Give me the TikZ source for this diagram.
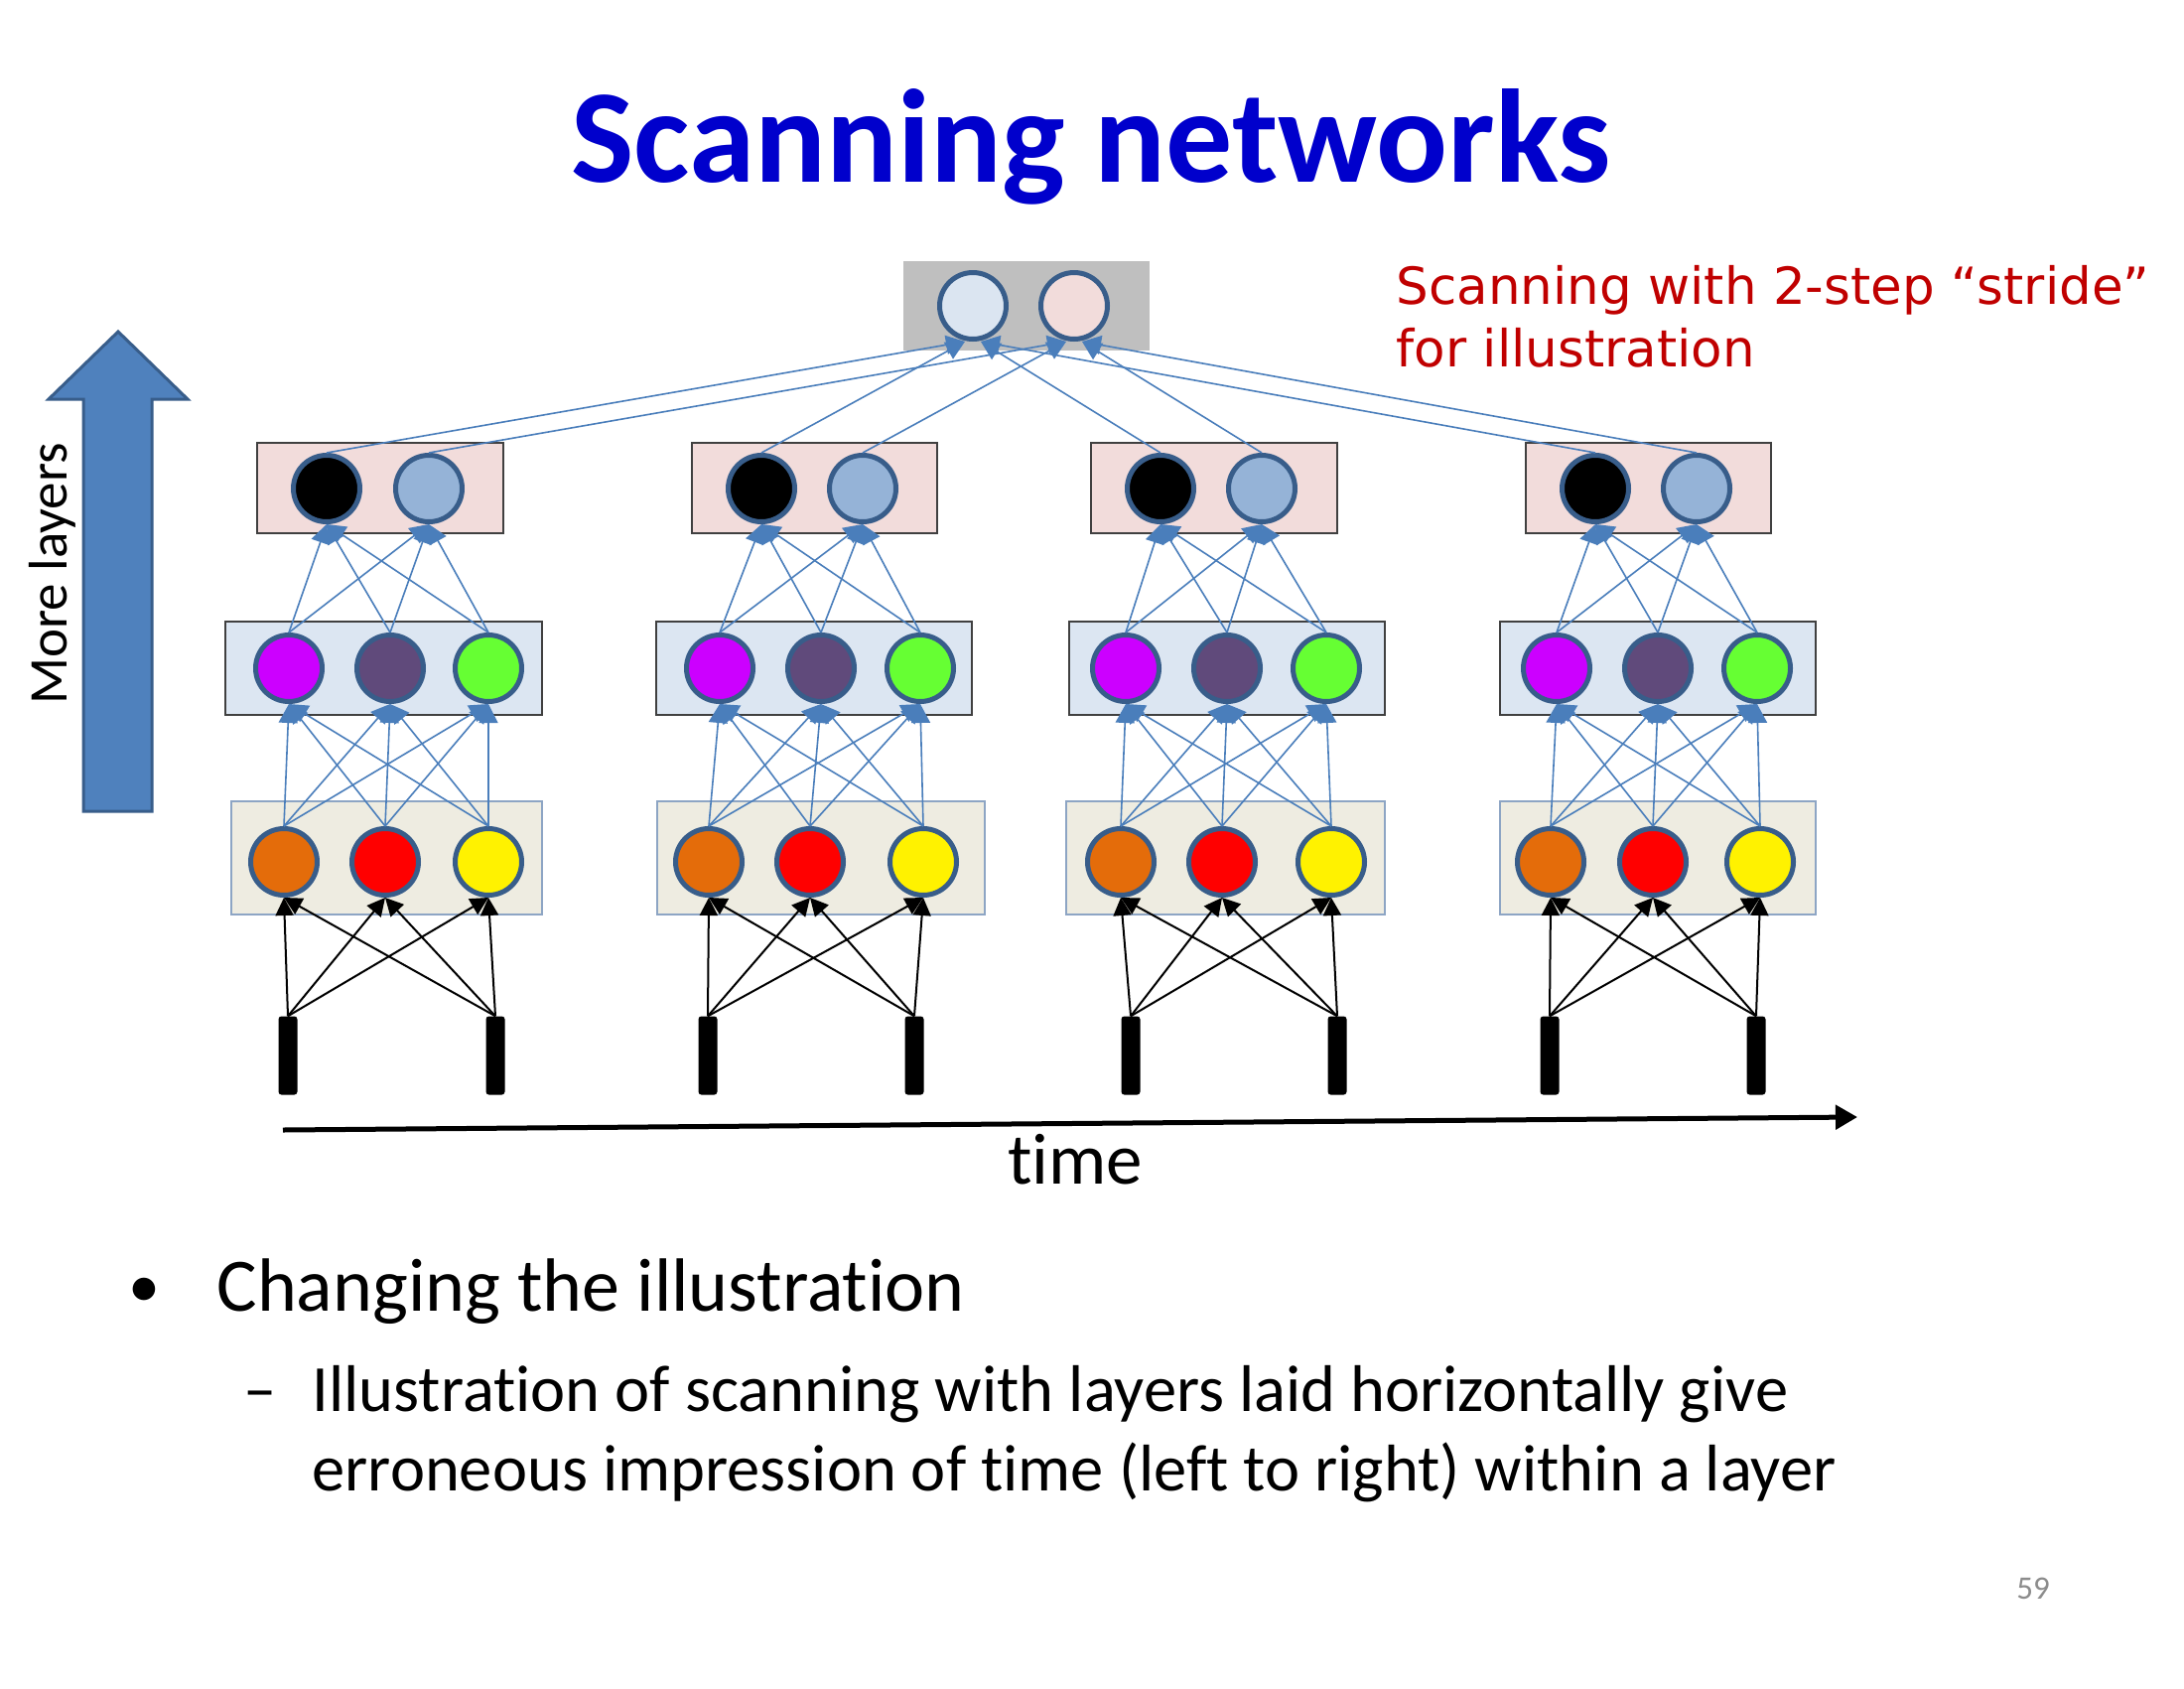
\documentclass[tikz,border=0pt]{standalone}
\usepackage{fontspec}
\setmainfont{Carlito}[Ligatures=NoCommon]
\newfontfamily\notefont{DejaVu Sans}
\usetikzlibrary{arrows.meta}

\definecolor{titleblue}{HTML}{0000CC}
\definecolor{notered}{HTML}{C00000}
\definecolor{ringblue}{HTML}{385D8A}
\definecolor{linkblue}{HTML}{4A7EBB}
\definecolor{arrowfill}{HTML}{4F81BD}
\definecolor{pinkfill}{HTML}{F2DCDB}
\definecolor{midfill}{HTML}{DCE6F2}
\definecolor{beigefill}{HTML}{EEECE1}
\definecolor{beigeedge}{HTML}{8DA5C4}
\definecolor{boxedge}{HTML}{404040}
\definecolor{greybox}{HTML}{BFBFBF}
\definecolor{ltblue}{HTML}{95B3D7}
\definecolor{topblue}{HTML}{DBE5F1}
\definecolor{toppink}{HTML}{F2DCDB}
\definecolor{nmagenta}{HTML}{CC00FF}
\definecolor{npurple}{HTML}{604A7B}
\definecolor{ngreen}{HTML}{66FF33}
\definecolor{norange}{HTML}{E46C0A}
\definecolor{pagegrey}{HTML}{8C8C8C}

\begin{document}
\begin{tikzpicture}[x=1pt,y=-1pt,
  neuron/.style={circle, draw=ringblue, line width=5pt, minimum size=67pt, inner sep=0pt},
  inbar/.style={rectangle, fill=black, minimum width=19pt, minimum height=79pt, inner sep=0pt, rounded corners=3pt},
  bluelink/.style={draw=linkblue, line width=1.6pt, -{Triangle[length=19pt,width=19pt]}},
  blacklink/.style={draw=black, line width=2pt, -{Triangle[length=18pt,width=18pt]}},
  pinkbox/.style={fill=pinkfill, draw=boxedge, line width=1.2pt},
  midbox/.style={fill=midfill, draw=boxedge, line width=1.2pt},
  beigebox/.style={fill=beigefill, draw=beigeedge, line width=1.2pt}]

% page
\fill[white] (0,0) rectangle (2200,1700);
\useasboundingbox (0,0) rectangle (2200,1700);

% title
\node[anchor=base, text=titleblue, font=\bfseries\fontsize{134}{160}\selectfont] (title) at (1099,183) {Scanning networks};

% note on the right
\node[anchor=base west, text=notered, font=\notefont\fontsize{51.5}{62}\selectfont] (note1) at (1403,306) {Scanning with 2-step “stride”};
\node[anchor=base west, text=notered, font=\notefont\fontsize{51.5}{62}\selectfont] (note2) at (1403,369) {for illustration};

% "more layers" arrow
\filldraw[fill=arrowfill, draw=ringblue, line width=3pt, line join=miter]
  (84,817) -- (84,402) -- (49,402) -- (119,334) -- (189,402) -- (153,402) -- (153,817) -- cycle;
\node[anchor=base, rotate=90, font=\fontsize{55}{66}\selectfont] (morelayers) at (67,578) {More layers};

% top layer
\fill[greybox] (910,263) rectangle (1158,353);
\node[neuron, fill=topblue] (tA) at (980,308) {};
\node[neuron, fill=toppink] (tB) at (1082,308) {};

% the four scanned blocks: boxes and neurons
\foreach \g/\pl/\pr/\pa/\pb/\ml/\mr/\ma/\mb/\mc/\bl/\br/\ba/\bb/\bc/\ia/\ib in {
  1/259/507/329/432/227/546/291/393/492/233/546/286/388/492/290/499,
  2/697/944/767/869/661/979/725/827/927/662/992/714/816/930/713/921,
  3/1099/1347/1169/1271/1077/1395/1134/1236/1336/1074/1395/1129/1231/1341/1139/1347,
  4/1537/1784/1607/1709/1511/1829/1568/1670/1770/1511/1829/1562/1665/1773/1561/1769}
{
  \path[pinkbox] (\pl,446) rectangle (\pr,537);
  \path[midbox] (\ml,626) rectangle (\mr,720);
  \path[beigebox] (\bl,807) rectangle (\br,921);
  \node[neuron, fill=black] (g\g-p1) at (\pa,492) {};
  \node[neuron, fill=ltblue] (g\g-p2) at (\pb,492) {};
  \node[neuron, fill=nmagenta] (g\g-m1) at (\ma,673) {};
  \node[neuron, fill=npurple] (g\g-m2) at (\mb,673) {};
  \node[neuron, fill=ngreen] (g\g-m3) at (\mc,673) {};
  \node[neuron, fill=norange] (g\g-b1) at (\ba,868) {};
  \node[neuron, fill=red] (g\g-b2) at (\bb,868) {};
  \node[neuron, fill=yellow] (g\g-b3) at (\bc,868) {};
  \node[inbar] (g\g-x1) at (\ia,1063) {};
  \node[inbar] (g\g-x2) at (\ib,1063) {};
}

% connections inside each block
\foreach \g in {1,2,3,4} {
  \foreach \i in {1,2} \foreach \j in {1,2,3}
    \draw[blacklink] (g\g-x\i.north) -- (g\g-b\j.south);
  \foreach \i in {1,2,3} \foreach \j in {1,2,3}
    \draw[bluelink] (g\g-b\i.north) -- (g\g-m\j.south);
  \foreach \i in {1,2,3} \foreach \j in {1,2}
    \draw[bluelink] (g\g-m\i.north) -- (g\g-p\j.south);
}

% connections to the top layer
\foreach \g in {1,2} {
  \draw[bluelink] (g\g-p1.north) -- ([xshift=-8pt]tA.south);
  \draw[bluelink] (g\g-p2.north) -- ([xshift=-8pt]tB.south);
}
\foreach \g in {3,4} {
  \draw[bluelink] (g\g-p1.north) -- ([xshift=8pt]tA.south);
  \draw[bluelink] (g\g-p2.north) -- ([xshift=8pt]tB.south);
}

% time axis
\coordinate (t0) at (285,1138);
\coordinate (t1) at (1871,1125);
\draw[line width=5pt, -{Triangle[length=22pt,width=24pt]}] (t0) -- (t1);
\node[anchor=base, font=\fontsize{73}{88}\selectfont] (timelabel) at (1083,1192) {time};

% bullet text
\node[anchor=base west, font=\fontsize{64}{77}\selectfont] (bul1) at (126,1316) {•};
\node[anchor=base west, font=\fontsize{76}{91}\selectfont] (txt1) at (215,1320) {Changing the illustration};
\node[anchor=base west, font=\fontsize{66.5}{80}\selectfont] (bul2) at (242,1421) {–};
\node[anchor=base west, font=\fontsize{66.5}{80}\selectfont] (txt2) at (311,1421) {Illustration of scanning with layers laid horizontally give};
\node[anchor=base west, font=\fontsize{66.5}{80}\selectfont] (txt3) at (311,1501) {erroneous impression of time (left to right) within a layer};

% page number
\node[anchor=base, text=pagegrey, font=\fontsize{33}{40}\selectfont] (pagenum) at (2048,1610) {59};

\end{tikzpicture}
\end{document}
